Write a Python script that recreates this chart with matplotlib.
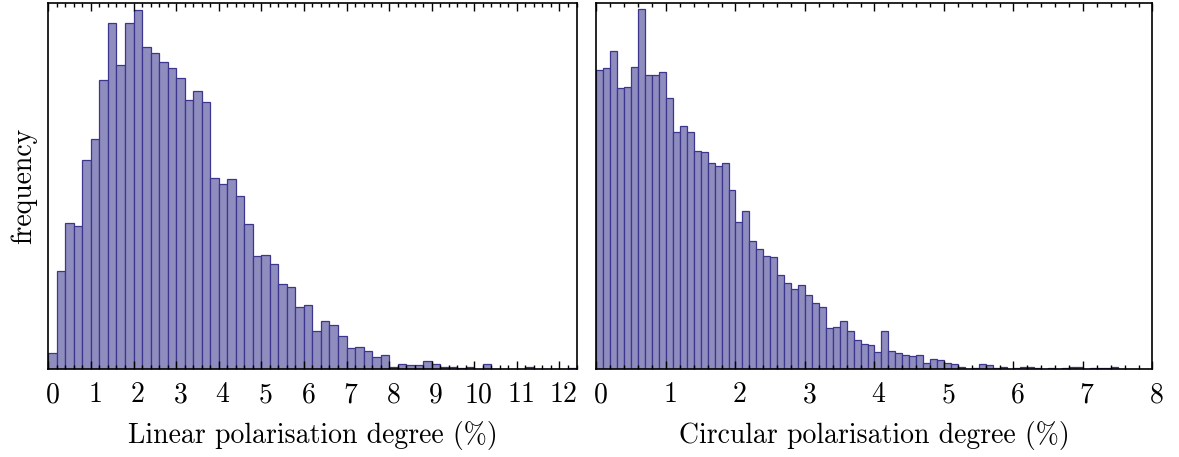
import matplotlib
matplotlib.use("Agg")
import matplotlib.pyplot as plt
import matplotlib.transforms as mtransforms
import numpy as np
from matplotlib.ticker import MultipleLocator

plt.rcParams["font.family"] = ["cmr10", "DejaVu Serif"]
plt.rcParams["mathtext.fontset"] = "cm"
plt.rcParams["axes.formatter.use_mathtext"] = True

# histogram counts
linear_width = 0.2
linear_counts = [12, 74, 110, 108, 157, 173, 217, 260, 229, 260, 270, 242, 238, 231,
                 226, 219, 202, 209, 201, 144, 139, 143, 130, 109, 85, 86, 79, 64,
                 62, 47, 48, 29, 36, 33, 25, 16, 17, 14, 9, 11, 2, 4, 3, 3, 6, 4,
                 2, 2, 1, 2, 0, 4, 0, 0, 0, 0, 2, 0, 0, 0, 0, 1]

circular_width = 0.1
circular_counts = [225, 226, 239, 211, 212, 227, 271, 221, 221, 223, 204, 178, 183, 178,
                   164, 163, 155, 153, 155, 135, 111, 119, 96, 90, 85, 84, 71, 65,
                   60, 63, 56, 50, 47, 31, 32, 36, 29, 22, 19, 18, 13, 29, 14, 12,
                   11, 10, 11, 5, 8, 7, 5, 4, 2, 0, 1, 4, 3, 1, 2, 0, 1, 2, 2, 1, 0,
                   1, 0, 1, 2, 2, 0, 1, 1, 1, 2, 0, 0, 0, 0, 0]

face = "#8f8cbe"
edge = "#3d368f"

fig = plt.figure(figsize=(11.79, 4.57), dpi=100)
ax1 = fig.add_axes([0.041, 0.192, 0.448, 0.801])
ax2 = fig.add_axes([0.5059, 0.192, 0.4716, 0.801])

ymax = max(max(linear_counts), max(circular_counts)) * 1.015
shift = mtransforms.ScaledTranslation(4 / 100, 0, fig.dpi_scale_trans)


def draw_hist(ax, counts, width, xmax, xlabel):
    edges = np.arange(len(counts)) * width
    ax.bar(edges, counts, width=width, align="edge", color=face,
           edgecolor=edge, linewidth=0.9)
    ax.set_xlim(0, xmax)
    ax.set_ylim(0, ymax)
    ax.xaxis.set_major_locator(MultipleLocator(1))
    ax.xaxis.set_minor_locator(MultipleLocator(0.2))
    ax.tick_params(axis="x", which="both", direction="in", top=True, bottom=True,
                   width=1.0, labelsize=20, pad=9)
    ax.tick_params(axis="x", which="major", length=6)
    ax.tick_params(axis="x", which="minor", length=3)
    ax.set_yticks([])
    for s in ax.spines.values():
        s.set_linewidth(1.2)
    ax.set_xlabel(xlabel, fontsize=20, labelpad=9)
    for lab in ax.get_xticklabels():
        lab.set_transform(lab.get_transform() + shift)


draw_hist(ax1, linear_counts, linear_width, 12.4, "Linear polarisation degree (%)")
draw_hist(ax2, circular_counts, circular_width, 8, "Circular polarisation degree (%)")
ax1.set_ylabel("frequency", fontsize=20, labelpad=8)

fig.savefig("out.png", dpi=100)
